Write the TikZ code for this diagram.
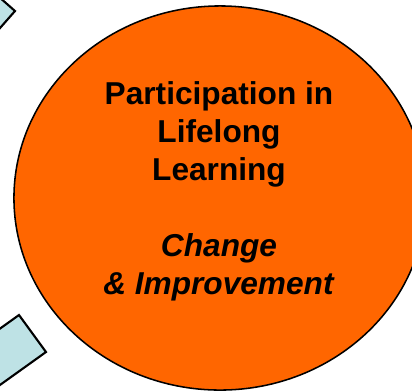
\documentclass[tikz,border=0pt]{standalone}
\usepackage{fontspec}
\setmainfont{Liberation Sans}
\usetikzlibrary{shapes.geometric}
\definecolor{lllorange}{RGB}{255,102,0}
\definecolor{paleblue}{RGB}{190,226,229}

\begin{document}
\begin{tikzpicture}[x=0.025cm, y=-0.025cm,
    tile/.style={draw=black, line width=1.5pt, fill=paleblue, line join=miter},
    bubble/.style={ellipse, draw=black, line width=1.1pt, fill=lllorange, minimum width=10.3cm, minimum height=9.6cm, inner sep=0pt},
    caption/.style={align=center, font=\bfseries\fontsize{22.5}{27}\selectfont}]
\useasboundingbox (0,0) rectangle (412,391);
\clip (0,0) rectangle (412,391);
% neighbouring tiles, mostly off the page
\draw[tile] (15,11) -- (-15,-15.4) -- (-41.4,14.6) -- (-11.4,41) -- cycle;
\draw[tile] (19,315) -- (46,352) -- (-2.6,386.8) -- (-29.6,349.8) -- cycle;
% main bubble
\node[bubble] (lll) at (220,198) {};
\node[caption] (lbl) at (219,191) {Participation in\\Lifelong\\Learning\\[27pt]\textit{Change}\\\textit{\& Improvement}};
\end{tikzpicture}
\end{document}
